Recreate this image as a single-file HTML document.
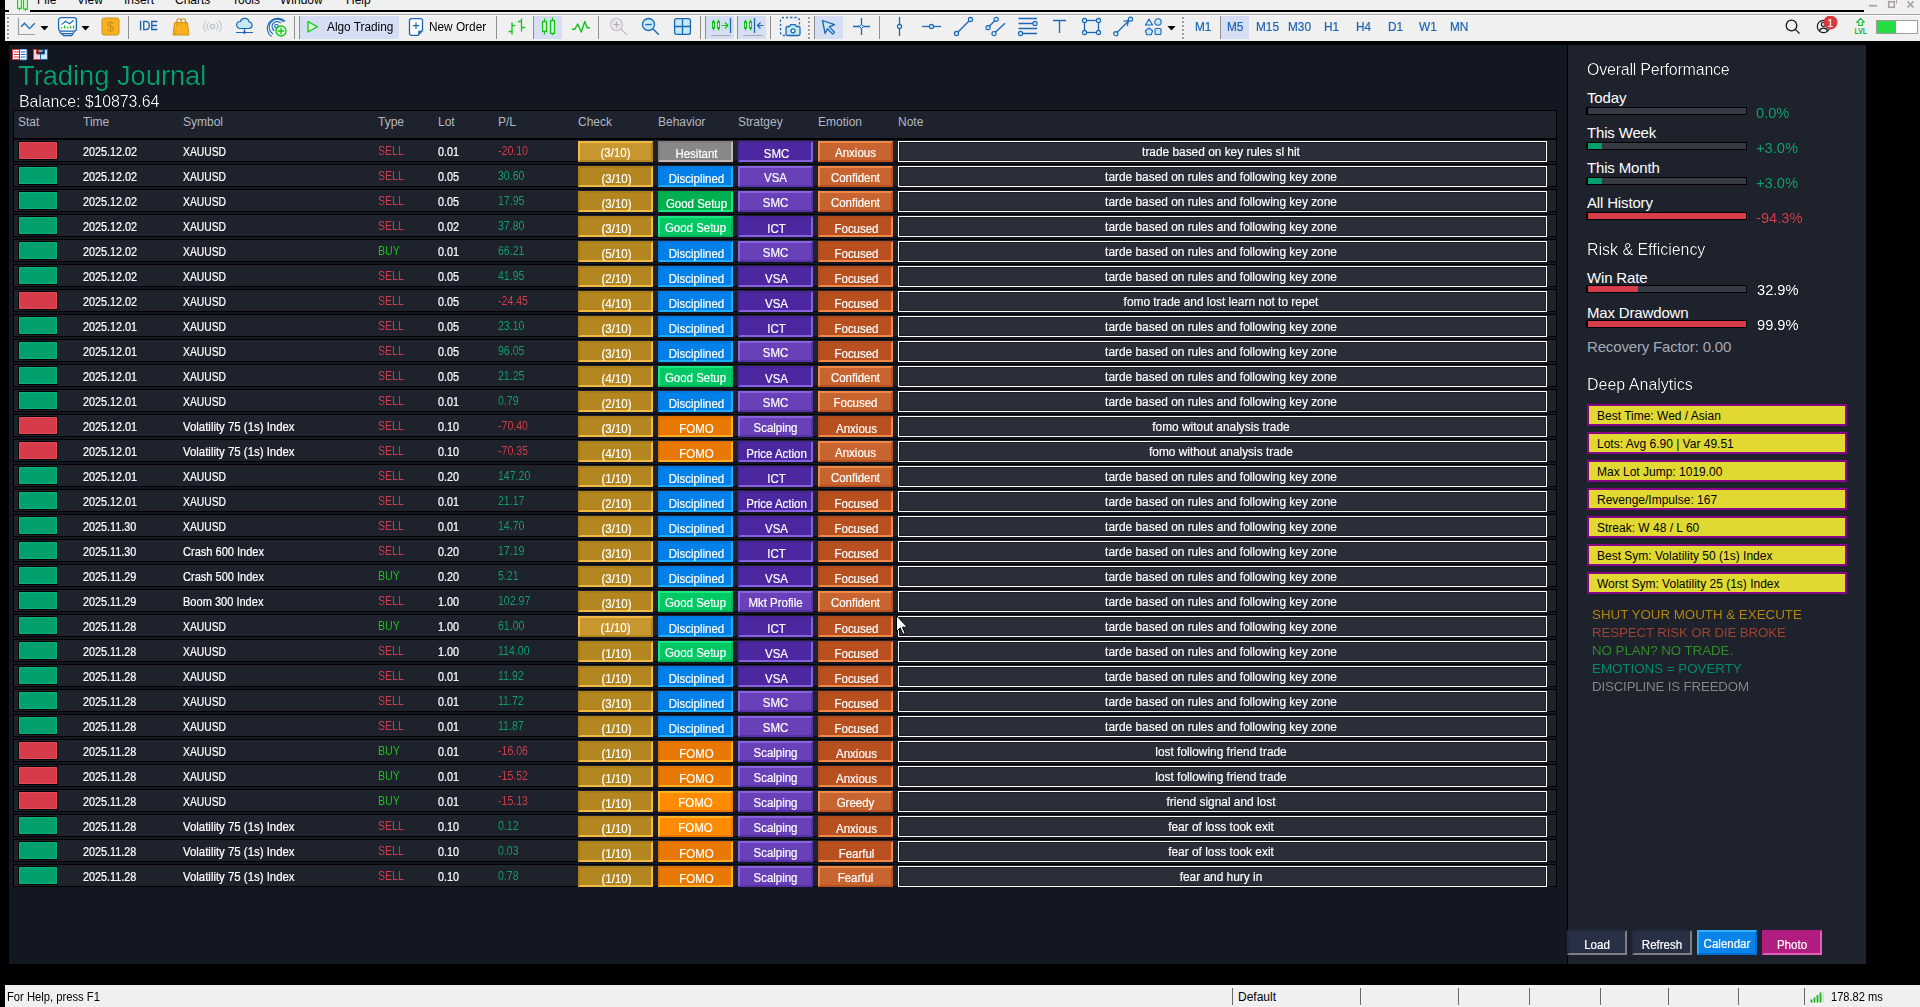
<!DOCTYPE html>
<html lang="en">
<head>
<meta charset="utf-8">
<title>Trading Journal</title>
<style>
*{box-sizing:border-box;margin:0;padding:0}
html,body{width:1920px;height:1007px;overflow:hidden;background:#000}
body{position:relative;font-family:"Liberation Sans",sans-serif;font-size:12px;color:#fff}
div,span,svg{position:absolute}
span{position:static}
/* ---------- window chrome ---------- */
#menubar{left:5px;top:0;width:1915px;height:10px;background:#f0f0f0;overflow:hidden}
#menubar .m{top:-7px;font-size:12px;color:#000;white-space:nowrap;line-height:14px}
#gap1{left:5px;top:10px;width:1859px;height:2px;background:#000}
#gap1b{left:1864px;top:10px;width:56px;height:2px;background:#f0f0f0}
#gapicon{left:9px;top:10px;width:21px;height:2px;background:#f0f0f0}
#strip{left:5px;top:12px;width:1915px;height:3px;background:#f0f0f0}
#strip i{position:absolute;left:0;top:2px;width:100%;height:1px;background:#a3a8a3}
#toolbar{left:5px;top:15px;width:1915px;height:26px;background:#f0f0f0}
#tbw{left:5px;top:15px;width:1915px;height:1px;background:#fdfdfd}
#toolbar .hl{background:#d6def3;top:1px;height:23px}
#toolbar .sep{width:1px;top:1px;height:23px;background:#8d8d8d}
#toolbar .tx{font-size:12px;color:#000;white-space:nowrap;top:5px;line-height:14px}
#toolbar .tf{-webkit-text-stroke:.2px #1a64b4;font-size:12px;color:#1a64b4;white-space:nowrap;top:5px;line-height:14px}
#toolbar .ide{-webkit-text-stroke:.3px #1560b0;font-size:12.5px;line-height:14px;color:#1560b0;top:5px;transform-origin:0 50%;transform:scaleX(.9)}
.k{display:inline-block;transform-origin:0 50%;transform:scaleX(.985)}
#toolbar .grip{width:2px;top:2px;height:23px;background:repeating-linear-gradient(180deg,#a8979d 0 2px,#fbfbfb 2px 3px,transparent 3px 4px)}
/* ---------- chart ---------- */
#chart{left:9px;top:45px;width:1558px;height:919px;background:#131722;overflow:hidden}
#chart>div{position:absolute}
#title{left:9px;top:16px;font-size:27.25px;line-height:30px;color:#00a36f;white-space:nowrap}
#bal{left:10px;top:48px;font-size:16px;line-height:18px;color:#fff;white-space:nowrap;letter-spacing:-.12px}
.hdr{left:4px;top:65px;width:1544px;height:29px;background:#1e222d;border:1px solid #000}
.hdr span{position:absolute;top:4px;font-size:12px;line-height:14px;color:#b4b7c0;white-space:nowrap}
#tbl{left:-9px;top:-45px;width:1px;height:1px}
#tbl>div{position:absolute}
.row{left:13px;width:1544px;height:23px;background:#1e222d;border:1px solid #000}
.st{left:18px;width:40px;height:19px;border:1px solid #000}
.st.w{background:#009f6c;box-shadow:inset 0 0 0 1px #00b47b}
.st.l{background:#d53b48;box-shadow:inset 0 0 0 1px #e84754}
.t{font-size:12px;line-height:14px;white-space:nowrap}
.t.s{color:#fff;-webkit-text-stroke:.22px #fff}
.sx{display:inline-block;transform-origin:0 50%;transform:scaleX(.90)}
.sx.mix{transform:scaleX(.95)}
.sx.cap{transform:scaleX(.86)}
.sx.mx2{transform:scaleX(.92)}
.nx{display:inline-block;transform-origin:0 50%;transform:scaleX(.845)}
.t.a{font-size:12.5px}
.sell{color:#d63c49}
.buy{color:#1cc41c}
.neg{color:#d63c49}
.pos{color:#0fa06d}
.b{-webkit-text-stroke:.2px #fff;width:75px;height:21px;text-align:center;font-size:12px;line-height:14px;color:#fff;white-space:nowrap;border-style:solid;border-width:2px}
.b span{position:absolute;left:-2px;right:-2px;top:2.5px;display:block;transform:scaleX(.955)}
.b.p span{left:-1px;right:-3px;top:3.5px}
.go{background:#c8962f;border-color:#f0ba45 #b3861f #b3861f #f0ba45}
.go.p{background:#b3861f;border-color:#aa7e1b #f0ba45 #f0ba45 #aa7e1b}
.bl{background:#1890f0;border-color:#30b0ff #0080e8 #0080e8 #30b0ff}
.bl.p{background:#0080e8;border-color:#0078e0 #20acff #20acff #0078e0}
.gr{background:#00c864;border-color:#18e880 #00b458 #00b458 #18e880}
.gr.p{background:#00b050;border-color:#00a84c #18e880 #18e880 #00a84c}
.or{background:#ff8c00;border-color:#ffb428 #e87800 #e87800 #ffb428}
.or.p{background:#e87800;border-color:#e07000 #ffb020 #ffb020 #e07000}
.gy{background:#989898;border-color:#c8c0c0 #888 #888 #c8c0c0}
.gy.p{background:#888888;border-color:#807c80 #c8b8b8 #c8b8b8 #807c80}
.pu{background:#6840b8;border-color:#8a62e0 #5830a8 #5830a8 #8a62e0}
.pu.p{background:#4c28a0;border-color:#482498 #8860e0 #8860e0 #482498}
.em{background:#c86430;border-color:#f08848 #b85020 #b85020 #f08848}
.em.p{background:#b85020;border-color:#b04c1c #f08848 #f08848 #b04c1c}
.note{-webkit-text-stroke:.18px #fff;left:898px;width:649px;height:21px;background:#2a2e39;border:1px solid #fff;box-shadow:inset 0 0 0 1px #1d202a;text-align:center;font-size:12px;line-height:14px;color:#fff;white-space:nowrap}
.note span{position:absolute;left:0;right:3px;top:3px;display:block;transform:scaleX(.99)}
.gdi,#title,#bal,.h1{filter:url(#thin)}
.pc,.mo,.t.a{filter:url(#thin2)}
/* ---------- side panel ---------- */
#side{left:1567px;top:45px;width:299px;height:919px;background:#1e222d;border-left:1px solid #000}
#side>div{position:absolute;white-space:nowrap}
.h1{left:19px;font-size:16px;line-height:18px;color:#fff;letter-spacing:-.22px}
.h2{left:19px;font-size:15px;line-height:17px;color:#fff;letter-spacing:-.16px}
.pc{left:188px;font-size:14.67px;line-height:17px}
.bar{left:18px;width:161px;height:8px;background:#363a45;border:1px solid #000;border-left-width:2px}
.bar i{position:absolute;left:0;top:0;height:6px}
.yb{left:19px;width:260px;height:22px;background:#e1d932;border:2px solid #880688;color:#000;font-size:12px;line-height:14px;padding:3px 0 0 8px}
.mo{left:24px;font-size:13.33px;line-height:15px}
.sb{-webkit-text-stroke:.2px #fff;width:60px;height:25px;text-align:center;font-size:12px;line-height:14px;color:#fff;border-style:solid;border-width:2px}
.sb span{position:absolute;left:-2px;right:-2px;top:6px;display:block;transform:scaleX(.96)}
/* ---------- status bar ---------- */
#status{left:5px;top:985px;width:1915px;height:22px;background:#f0f0f0;color:#000;font-size:12px;line-height:14px}
#status div{position:absolute;white-space:nowrap}
#status .sp{width:1px;top:3px;height:17px;background:#6a6a6a}
</style>
</head>
<body>
<svg width="0" height="0" style="left:0;top:0"><defs><filter id="thin" x="0" y="0" width="1" height="1" color-interpolation-filters="sRGB"><feComponentTransfer><feFuncA type="gamma" amplitude="1" exponent="2.1" offset="0"/></feComponentTransfer></filter><filter id="thin2" x="0" y="0" width="1" height="1" color-interpolation-filters="sRGB"><feComponentTransfer><feFuncA type="gamma" amplitude="1.1" exponent="1.35" offset="0"/></feComponentTransfer></filter></defs></svg>
<!-- menu bar (clipped by the window edge) -->
<div id="menubar">
<svg style="left:1862px;top:0" width="52" height="10" viewBox="0 0 52 10"><path d="M2 5.700h8" stroke="#a9a0a4" stroke-width="1.700"/><rect x="21.700" y="1.700" width="5.600" height="5.600" fill="none" stroke="#a9a0a4" stroke-width="1.500"/><path d="M29.500 0v3.500" stroke="#a9a0a4" stroke-width="1"/><path d="M40.500 1.500l6 6M46.500 1.500l-6 6" stroke="#a9a0a4" stroke-width="1.700"/></svg>
<div class="m" style="left:32px">File</div>
<div class="m" style="left:72px">View</div>
<div class="m" style="left:119px">Insert</div>
<div class="m" style="left:170px">Charts</div>
<div class="m" style="left:227px">Tools</div>
<div class="m" style="left:275px">Window</div>
<div class="m" style="left:341px">Help</div>
</div>
<div id="gap1"></div><div id="gap1b"></div><div id="gapicon"></div>
<svg style="left:16px;top:0" width="14" height="12" viewBox="0 0 14 12"><rect x="1.600" y="-3" width="3.800" height="11.400" fill="#e9ffe2" stroke="#12d012" stroke-width="1.200"/><rect x="7.600" y="-3" width="3.800" height="12" fill="#e9ffe2" stroke="#12d012" stroke-width="1.200"/><path d="M3.500 8.500v1.700M9.500 9v2" stroke="#12d012" stroke-width="1.200"/></svg>

<div id="strip"><i></i></div>
<div id="toolbar">
<div class="grip" style="left:2px;"></div>
<svg style="left:12px;top:2px" width="20" height="19" viewBox="0 0 20 19"><path d="M1.5 1v16.5H18" fill="none" stroke="#9aa09e" stroke-width="1.2"/><path d="M4.2 9.8l3.3-3.6 5 5.4 5.3-5.4" fill="none" stroke="#1b66b6" stroke-width="1.3" stroke-linejoin="miter"/></svg>
<svg style="left:35px;top:10px" width="9" height="6" viewBox="0 0 9 6"><path d="M0.5 1h8L4.5 5.4z" fill="#000"/></svg>
<svg style="left:52px;top:1px" width="21" height="21" viewBox="0 0 21 21"><rect x="1.6" y="1.6" width="17.8" height="13.6" rx="2.6" fill="#fff" stroke="#1b66b6" stroke-width="1.3"/><path d="M2.6 15.6l1.6 2.1h11.6l1.6-2.1M4.8 17.7l1.6 1.9h8.2l1.6-1.9M6.4 19.6h8.2" fill="none" stroke="#1b66b6" stroke-width="1.2"/><path d="M4.5 8.6l4-3.3 4 2.4 4.2-3.4" fill="none" stroke="#1b66b6" stroke-width="1.2"/><path d="M4.6 11v1.6M7.6 9.6v3M10.6 11v1.6M13.6 10.2v2.4M16.6 9.4v3.2" stroke="#10c414" stroke-width="1.3"/></svg>
<svg style="left:76px;top:10px" width="9" height="6" viewBox="0 0 9 6"><path d="M0.5 1h8L4.5 5.4z" fill="#000"/></svg>
<svg style="left:96px;top:2px" width="19" height="19" viewBox="0 0 19 19"><rect x="1" y="1" width="17" height="17" rx="2" fill="#fab11f" stroke="#d0921a" stroke-width="1"/><path d="M12.3 6.6c-.6-1-1.7-1.4-2.9-1.4-1.7 0-2.8.9-2.800 2.100 0 3 5.800 1.500 5.800 4.500 0 1.300-1.200 2.100-3 2.100-1.400 0-2.500-.6-3.100-1.600M9.500 3.500v12" fill="none" stroke="#c8901c" stroke-width="1.1"/></svg>
<div class="sep" style="left:123px;"></div>
<div class="ide" style="left:134px;top:4px;">IDE</div>
<svg style="left:167px;top:2px" width="18" height="19" viewBox="0 0 18 19"><path d="M4.800 6.500V4.500a2.200 2.700 0 0 1 4.400 0v2M9.200 6.500V4.500a2.200 2.700 0 0 1 4.400 0v2" fill="none" stroke="#d0921a" stroke-width="1.1"/><path d="M2.500 5.500h13l1.500 12.500H1z" fill="#fab11f" stroke="#d0921a" stroke-width="1"/><path d="M4.800 5.500v4M9.200 5.500v2M13.600 5.500v2M3.800 13.500v4" stroke="#d0921a" stroke-width="1"/></svg>
<svg style="left:198px;top:4px" width="20" height="15" viewBox="0 0 20 15"><circle cx="9.500" cy="7.500" r="2.300" fill="#e4ecf4" stroke="#a9b7cc" stroke-width="1"/><path d="M5.700 3.600a5.500 5.500 0 0 0 0 7.800M13.300 3.600a5.500 5.500 0 0 1 0 7.800" fill="none" stroke="#c5b4ba" stroke-width="1"/><path d="M3.200 1.500a8.500 8.500 0 0 0 0 12M15.800 1.500a8.500 8.500 0 0 1 0 12" fill="none" stroke="#b4c4da" stroke-width="1"/></svg>
<svg style="left:230px;top:2px" width="20" height="19" viewBox="0 0 20 19"><path d="M5 11.500a3.500 3.500 0 0 1 .3-7 4.600 4.600 0 0 1 8.800.5 3.300 3.300 0 0 1 .4 6.500z" fill="#c6e9f5" stroke="#1b66b6" stroke-width="1.200"/><path d="M9.500 11.500v3.500M1 15.500h17" stroke="#1b66b6" stroke-width="1.200"/><circle cx="9.500" cy="15.600" r="1.300" fill="#1b66b6"/></svg>
<svg style="left:261px;top:2px" width="22" height="21" viewBox="0 0 22 21"><circle cx="10.500" cy="9.300" r="1.800" fill="#c6e9f5" stroke="#1b66b6" stroke-width="1.100"/><path d="M14.800 6.200a5 5 0 1 0-6.300 7.600M17 4.800a8 8 0 1 0-10 12.300M19 4.500a10.500 10.500 0 0 0-16.500 2 10 10 0 0 0 3 13" fill="none" stroke="#1b66b6" stroke-width="1.100"/><circle cx="15" cy="14" r="5" fill="#e4ffe2" stroke="#10c414" stroke-width="1.300"/><path d="M15 10.800v6.400M11.800 14h6.400" stroke="#10c414" stroke-width="1.300"/></svg>
<div class="sep" style="left:289px;"></div>
<div class="sep" style="left:294px;"></div>
<div class="hl" style="left:295px;width:99px;"></div>
<svg style="left:301px;top:5px" width="14" height="14" viewBox="0 0 14 14"><path d="M2 1.500l9.500 5.200L2 12z" fill="#dcffd8" stroke="#10c414" stroke-width="1.300" stroke-linejoin="round"/></svg>
<div class="tx" style="left:322px;"><span class="k">Algo Trading</span></div>
<svg style="left:403px;top:2px" width="16" height="20" viewBox="0 0 16 20"><path d="M3.500 1.600h9a2 2 0 0 1 2 2v9.900l-4.500 4.900H3.500a2 2 0 0 1-2-2V3.600a2 2 0 0 1 2-2z" fill="#fff" stroke="#1b66b6" stroke-width="1.300"/><path d="M14.200 13.700l-4 4.400v-4.400z" fill="#1b66b6"/><path d="M8 5.500v6.400M4.800 8.700h6.400" stroke="#1b66b6" stroke-width="1.200"/></svg>
<div class="tx" style="left:424px;"><span class="k">New Order</span></div>
<div class="sep" style="left:491px;"></div>
<svg style="left:502px;top:2px" width="20" height="20" viewBox="0 0 20 20"><path d="M5 5.500v12M5 14.500H1.500M5 8.500h3M14.500 1.500v13M14.500 4.500H11M14.500 10.500h3.500" fill="none" stroke="#10c414" stroke-width="1.300"/></svg>
<div class="sep" style="left:528px;"></div>
<div class="hl" style="left:529px;width:28px;"></div>
<svg style="left:536px;top:2px" width="16" height="20" viewBox="0 0 16 20"><path d="M3.500 1.500v16M11.500 .5v17.500" stroke="#10c414" stroke-width="1.300"/><rect x="1.600" y="4.600" width="3.800" height="9.800" fill="#e9ffe6" stroke="#10c414" stroke-width="1.300"/><rect x="9.600" y="3.600" width="3.800" height="12.800" fill="#e9ffe6" stroke="#10c414" stroke-width="1.300"/></svg>
<svg style="left:566px;top:4px" width="20" height="15" viewBox="0 0 20 15"><path d="M1 10.300h2.700l3-5.300 3.600 8 3.500-10.500 2.200 6.200h3" fill="none" stroke="#10c414" stroke-width="1.400" stroke-linejoin="round"/></svg>
<div class="sep" style="left:593px;"></div>
<svg style="left:604px;top:2px" width="20" height="20" viewBox="0 0 20 20"><circle cx="7.500" cy="7.500" r="6" fill="#e8e9ee" stroke="#c9bcc4" stroke-width="1.100"/><path d="M7.500 4.500v6M4.500 7.500h6" stroke="#b7a8b0" stroke-width="1.100"/><path d="M11.800 11.800l6 6" stroke="#c4b6be" stroke-width="1.200"/></svg>
<svg style="left:636px;top:2px" width="20" height="20" viewBox="0 0 20 20"><circle cx="7.500" cy="7.500" r="6" fill="#c6e9f5" stroke="#1b66b6" stroke-width="1.300"/><path d="M4.300 7.500h6.400" stroke="#1b66b6" stroke-width="1.300"/><path d="M11.800 11.800l6 6" stroke="#1b66b6" stroke-width="1.400"/></svg>
<svg style="left:668px;top:2px" width="20" height="20" viewBox="0 0 20 20"><rect x="1.600" y="1.600" width="15.800" height="15.800" rx="2" fill="#c6e9f5" stroke="#1b66b6" stroke-width="1.300"/><path d="M9.500 1.600v15.800M1.600 9.500h15.800" stroke="#1b66b6" stroke-width="1.300"/></svg>
<div class="sep" style="left:695px;"></div>
<div class="sep" style="left:700px;"></div>
<div class="hl" style="left:701px;width:28px;"></div>
<svg style="left:705px;top:2px" width="22" height="21" viewBox="0 0 22 21"><path d="M3.500 2.500v11M8.500 2.500v11" stroke="#10c414" stroke-width="1"/><rect x="2.500" y="4.600" width="2" height="6.800" fill="#e9ffe6" stroke="#10c414" stroke-width="1"/><rect x="7.500" y="4.600" width="2" height="6.800" fill="#e9ffe6" stroke="#10c414" stroke-width="1"/><path d="M11.500 8.500h6M15 5.500l3 3-3 3" fill="none" stroke="#10c414" stroke-width="1.200"/><path d="M20.500 1v15" stroke="#1b66b6" stroke-width="1.300"/><path d="M1.500 18.500h19" stroke="#aaa9a4" stroke-width="1"/></svg>
<div class="sep" style="left:732px;"></div>
<div class="hl" style="left:733px;width:28px;"></div>
<svg style="left:737px;top:2px" width="22" height="21" viewBox="0 0 22 21"><path d="M3.500 2.500v11M8.500 2.500v11" stroke="#10c414" stroke-width="1"/><rect x="2.500" y="4.600" width="2" height="6.800" fill="#e9ffe6" stroke="#10c414" stroke-width="1"/><rect x="7.500" y="4.600" width="2" height="6.800" fill="#e9ffe6" stroke="#10c414" stroke-width="1"/><path d="M12.500 1v15" stroke="#1b66b6" stroke-width="1.300"/><path d="M15.500 8.500h6M18.500 5.500l-3 3 3 3" fill="none" stroke="#1b66b6" stroke-width="1.200"/><path d="M1.500 18.500h19" stroke="#aaa9a4" stroke-width="1"/></svg>
<div class="sep" style="left:765px;"></div>
<svg style="left:774px;top:1px" width="23" height="22" viewBox="0 0 23 22"><path d="M6 19.500H4.500a3 3 0 0 1-3-3V4.500a3 3 0 0 1 3-3h13a3 3 0 0 1 3 3V9" fill="none" stroke="#1b66b6" stroke-width="1.300" stroke-dasharray="2.200 2"/><path d="M8.500 19.500a1.500 1.500 0 0 1-1.500-1.500v-6a1.500 1.500 0 0 1 1.500-1.500h2l1.300-1.900h4.400l1.300 1.900h2a1.500 1.500 0 0 1 1.500 1.500v6a1.500 1.500 0 0 1-1.500 1.500z" fill="#c6e9f5" stroke="#1b66b6" stroke-width="1.300"/><circle cx="14" cy="14.800" r="2" fill="#fff" stroke="#1b66b6" stroke-width="1.300"/></svg>
<div class="grip" style="left:803px;"></div>
<div class="sep" style="left:809px;"></div>
<div class="hl" style="left:810px;width:28px;"></div>
<svg style="left:815px;top:3px" width="18" height="18" viewBox="0 0 18 18"><path d="M2.500 2.500l12 4.200-5.200 2.200 5.200 5.400-1.800 1.800-5.300-5.400-2.300 4.800z" fill="#c6e9f5" stroke="#1b66b6" stroke-width="1.300" stroke-linejoin="round"/></svg>
<svg style="left:847px;top:2px" width="20" height="20" viewBox="0 0 20 20"><path d="M9.500 1v17M1 9.500h17" stroke="#1b66b6" stroke-width="1.300"/><path d="M9.500 7.300l2.200 2.200-2.200 2.200-2.200-2.200z" fill="#c6e9f5" stroke="#1b66b6" stroke-width="1"/></svg>
<div class="sep" style="left:874px;"></div>
<svg style="left:888px;top:1px" width="14" height="22" viewBox="0 0 14 22"><path d="M6.500 1v19" stroke="#1b66b6" stroke-width="1.300"/><circle cx="6.500" cy="10.500" r="2.100" fill="#c6e9f5" stroke="#1b66b6" stroke-width="1.100"/></svg>
<svg style="left:916px;top:6px" width="22" height="12" viewBox="0 0 22 12"><path d="M1 5.500h19" stroke="#1b66b6" stroke-width="1.300"/><circle cx="10.500" cy="5.500" r="2.100" fill="#c6e9f5" stroke="#1b66b6" stroke-width="1.100"/></svg>
<svg style="left:948px;top:1px" width="22" height="22" viewBox="0 0 22 22"><path d="M3.800 17.200L17.200 3.800" stroke="#1b66b6" stroke-width="1.300"/><circle cx="3.500" cy="17.500" r="2.100" fill="#c6e9f5" stroke="#1b66b6" stroke-width="1.100"/><circle cx="17.500" cy="3.500" r="2.100" fill="#c6e9f5" stroke="#1b66b6" stroke-width="1.100"/></svg>
<svg style="left:979px;top:1px" width="24" height="22" viewBox="0 0 24 22"><path d="M4 11.500l8-8M10 17.500l11-10.300" stroke="#1b66b6" stroke-width="1.300"/><circle cx="4" cy="11.700" r="2.100" fill="#c6e9f5" stroke="#1b66b6" stroke-width="1.100"/><circle cx="12.200" cy="3.300" r="2.100" fill="#c6e9f5" stroke="#1b66b6" stroke-width="1.100"/><circle cx="10" cy="17.600" r="2.100" fill="#c6e9f5" stroke="#1b66b6" stroke-width="1.100"/></svg>
<svg style="left:1011px;top:1px" width="24" height="22" viewBox="0 0 24 22"><path d="M2.500 2.500h18.500M2.500 7.500h16M2.500 12.500h18.500M5 17.500h16" stroke="#1b66b6" stroke-width="1.300"/><circle cx="19" cy="7.500" r="2.100" fill="#c6e9f5" stroke="#1b66b6" stroke-width="1.100"/><circle cx="4.500" cy="17.500" r="2.100" fill="#c6e9f5" stroke="#1b66b6" stroke-width="1.100"/></svg>
<svg style="left:1047px;top:3px" width="16" height="16" viewBox="0 0 16 16"><path d="M1 2.500h13M7.500 2.500v12.500" stroke="#1b66b6" stroke-width="1.300" fill="none"/></svg>
<svg style="left:1076px;top:2px" width="22" height="20" viewBox="0 0 22 20"><rect x="3.500" y="3.500" width="14" height="12" fill="none" stroke="#1b66b6" stroke-width="1.300"/><circle cx="3.500" cy="3.500" r="2.100" fill="#c6e9f5" stroke="#1b66b6" stroke-width="1.100"/><circle cx="17.500" cy="3.500" r="2.100" fill="#c6e9f5" stroke="#1b66b6" stroke-width="1.100"/><circle cx="3.500" cy="15.500" r="2.100" fill="#c6e9f5" stroke="#1b66b6" stroke-width="1.100"/><circle cx="17.500" cy="15.500" r="2.100" fill="#c6e9f5" stroke="#1b66b6" stroke-width="1.100"/></svg>
<svg style="left:1107px;top:1px" width="22" height="22" viewBox="0 0 22 22"><path d="M4 17.500L17 4.500M11.500 5.300l6-1.300M15.300 10l1.300-6" stroke="#1b66b6" stroke-width="1.200" fill="none"/><circle cx="3.800" cy="17.700" r="2.100" fill="#c6e9f5" stroke="#1b66b6" stroke-width="1.100"/><circle cx="18.500" cy="3.200" r="2.100" fill="#c6e9f5" stroke="#1b66b6" stroke-width="1.100"/></svg>
<svg style="left:1139px;top:2px" width="20" height="20" viewBox="0 0 20 20"><path d="M5 2l3.600 6H1.400z" fill="#c6e9f5" stroke="#1b66b6" stroke-width="1.100" stroke-linejoin="round"/><circle cx="14" cy="5" r="3.200" fill="#c6e9f5" stroke="#1b66b6" stroke-width="1.100"/><path d="M5 11l3.600 2.700-1.400 4H2.800l-1.400-4z" fill="#c6e9f5" stroke="#1b66b6" stroke-width="1.100" stroke-linejoin="round"/><rect x="11" y="11.500" width="6" height="6" rx="1" fill="#c6e9f5" stroke="#1b66b6" stroke-width="1.100"/></svg>
<svg style="left:1162px;top:10px" width="9" height="6" viewBox="0 0 9 6"><path d="M0.5 1h8L4.5 5.4z" fill="#000"/></svg>
<div class="grip" style="left:1177px;"></div>
<div class="tf" style="left:1190px;"><span class="k">M1</span></div>
<div class="sep" style="left:1215px;"></div>
<div class="hl" style="left:1216px;width:28px;"></div>
<div class="tf" style="left:1222px;"><span class="k">M5</span></div>
<div class="tf" style="left:1251px;"><span class="k">M15</span></div>
<div class="tf" style="left:1283px;"><span class="k">M30</span></div>
<div class="tf" style="left:1319px;"><span class="k">H1</span></div>
<div class="tf" style="left:1351px;"><span class="k">H4</span></div>
<div class="tf" style="left:1383px;"><span class="k">D1</span></div>
<div class="tf" style="left:1414px;"><span class="k">W1</span></div>
<div class="tf" style="left:1445px;"><span class="k">MN</span></div>
<svg style="left:1779px;top:3px" width="18" height="18" viewBox="0 0 18 18"><circle cx="7.500" cy="7.500" r="5.300" fill="none" stroke="#1a1a1a" stroke-width="1.300"/><path d="M11.400 11.400l4.200 4.200" stroke="#1a1a1a" stroke-width="1.300"/></svg>
<svg style="left:1810px;top:0px" width="24" height="22" viewBox="0 0 24 22"><circle cx="8.500" cy="11.500" r="6.200" fill="none" stroke="#1a1a1a" stroke-width="1.200"/><circle cx="8.500" cy="9.300" r="2.100" fill="none" stroke="#1a1a1a" stroke-width="1.100"/><path d="M4.300 16a4.500 4.500 0 0 1 8.400 0" fill="none" stroke="#1a1a1a" stroke-width="1.100"/><circle cx="15.500" cy="7.500" r="7" fill="#d9393e"/><text x="15.300" y="11.600" text-anchor="middle" style="font-family:'Liberation Sans',sans-serif;font-size:11.500px" fill="#fff">1</text></svg>
<svg style="left:1848px;top:2px" width="16" height="19" viewBox="0 0 16 19"><path d="M7.500 1.300l3.900 4H9.200v3.200H5.800V5.300H3.600z" fill="#fff" stroke="#12b42c" stroke-width="1.100" stroke-linejoin="round"/><text x="7.700" y="17.300" text-anchor="middle" style="font-family:'Liberation Sans',sans-serif;font-size:8.200px;font-weight:bold" fill="#12b42c" textLength="12.500" lengthAdjust="spacingAndGlyphs">LVL</text></svg>
<div style="left:1871px;top:5px;width:42px;height:14px;background:#fff;border:1px solid #a39c9f"><i style="position:absolute;left:0;top:0;width:19px;height:12px;background:#24dc44"></i></div>
</div>

<div id="tbw"></div>

<div id="chart">
<svg style="left:3px;top:4px" width="36" height="12" viewBox="0 0 36 12">
<rect x=".5" y=".5" width="14" height="10" fill="#fff" stroke="#d43c40" stroke-width="1"/><path d="M7.500 0v11h7.500V0z" fill="#fff" stroke="#1c60b4" stroke-width="1"/><path d="M2 3h5M2 5.500h5M2 8h5" stroke="#d43c40" stroke-width="1"/><path d="M8.500 3h5M8.500 5.500h5M8.500 8h5" stroke="#1c60b4" stroke-width="1"/>
<path d="M21.500.500h3v4.500h4v5.500h-7z" fill="#fbd4d8" stroke="#d43c40" stroke-width="1"/><path d="M32.500.500h3v10h-7V5h4z" fill="#c6e9f5" stroke="#1c60b4" stroke-width="1"/><rect x="25.500" y=".500" width="6" height="3" fill="#555"/><rect x="26.500" y="1.500" width="4" height="1" fill="#eee"/>
</svg>
<div id="title">Trading Journal</div>
<div id="bal">Balance: $10873.64</div>
<div class="hdr">
<span style="left:4px">Stat</span><span style="left:69px">Time</span><span style="left:169px">Symbol</span><span style="left:364px">Type</span><span style="left:424px">Lot</span><span style="left:484px">P/L</span><span style="left:564px">Check</span><span style="left:644px">Behavior</span><span style="left:724px">Stratgey</span><span style="left:804px">Emotion</span><span style="left:884px">Note</span>
</div>
<div id="tbl">
<div class="row" style="top:139px"></div>
<div class="st l" style="top:141px"></div>
<div class="t s" style="left:83px;top:145px"><span class="sx">2025.12.02</span></div>
<div class="t s" style="left:183px;top:145px"><span class="sx cap">XAUUSD</span></div>
<div class="t a sell" style="left:378px;top:144px"><span class="nx">SELL</span></div>
<div class="t s" style="left:438px;top:145px"><span class="sx">0.01</span></div>
<div class="t a neg" style="left:498px;top:144px"><span class="nx">-20.10</span></div>
<div class="b go" style="left:578px;top:141px"><span>(3/10)</span></div>
<div class="b gy p" style="left:658px;top:141px"><span>Hesitant</span></div>
<div class="b pu p" style="left:738px;top:141px"><span>SMC</span></div>
<div class="b em" style="left:818px;top:141px"><span>Anxious</span></div>
<div class="note" style="top:141px"><span>trade based on key rules sl hit</span></div>
<div class="row" style="top:164px"></div>
<div class="st w" style="top:166px"></div>
<div class="t s" style="left:83px;top:170px"><span class="sx">2025.12.02</span></div>
<div class="t s" style="left:183px;top:170px"><span class="sx cap">XAUUSD</span></div>
<div class="t a sell" style="left:378px;top:169px"><span class="nx">SELL</span></div>
<div class="t s" style="left:438px;top:170px"><span class="sx">0.05</span></div>
<div class="t a pos" style="left:498px;top:169px"><span class="nx">30.60</span></div>
<div class="b go p" style="left:578px;top:166px"><span>(3/10)</span></div>
<div class="b bl p" style="left:658px;top:166px"><span>Disciplined</span></div>
<div class="b pu" style="left:738px;top:166px"><span>VSA</span></div>
<div class="b em" style="left:818px;top:166px"><span>Confident</span></div>
<div class="note" style="top:166px"><span>tarde based on rules and following key zone</span></div>
<div class="row" style="top:189px"></div>
<div class="st w" style="top:191px"></div>
<div class="t s" style="left:83px;top:195px"><span class="sx">2025.12.02</span></div>
<div class="t s" style="left:183px;top:195px"><span class="sx cap">XAUUSD</span></div>
<div class="t a sell" style="left:378px;top:194px"><span class="nx">SELL</span></div>
<div class="t s" style="left:438px;top:195px"><span class="sx">0.05</span></div>
<div class="t a pos" style="left:498px;top:194px"><span class="nx">17.95</span></div>
<div class="b go p" style="left:578px;top:191px"><span>(3/10)</span></div>
<div class="b gr p" style="left:658px;top:191px"><span>Good Setup</span></div>
<div class="b pu" style="left:738px;top:191px"><span>SMC</span></div>
<div class="b em" style="left:818px;top:191px"><span>Confident</span></div>
<div class="note" style="top:191px"><span>tarde based on rules and following key zone</span></div>
<div class="row" style="top:214px"></div>
<div class="st w" style="top:216px"></div>
<div class="t s" style="left:83px;top:220px"><span class="sx">2025.12.02</span></div>
<div class="t s" style="left:183px;top:220px"><span class="sx cap">XAUUSD</span></div>
<div class="t a sell" style="left:378px;top:219px"><span class="nx">SELL</span></div>
<div class="t s" style="left:438px;top:220px"><span class="sx">0.02</span></div>
<div class="t a pos" style="left:498px;top:219px"><span class="nx">37.80</span></div>
<div class="b go p" style="left:578px;top:216px"><span>(3/10)</span></div>
<div class="b gr" style="left:658px;top:216px"><span>Good Setup</span></div>
<div class="b pu p" style="left:738px;top:216px"><span>ICT</span></div>
<div class="b em p" style="left:818px;top:216px"><span>Focused</span></div>
<div class="note" style="top:216px"><span>tarde based on rules and following key zone</span></div>
<div class="row" style="top:239px"></div>
<div class="st w" style="top:241px"></div>
<div class="t s" style="left:83px;top:245px"><span class="sx">2025.12.02</span></div>
<div class="t s" style="left:183px;top:245px"><span class="sx cap">XAUUSD</span></div>
<div class="t a buy" style="left:378px;top:244px"><span class="nx">BUY</span></div>
<div class="t s" style="left:438px;top:245px"><span class="sx">0.01</span></div>
<div class="t a pos" style="left:498px;top:244px"><span class="nx">66.21</span></div>
<div class="b go p" style="left:578px;top:241px"><span>(5/10)</span></div>
<div class="b bl p" style="left:658px;top:241px"><span>Disciplined</span></div>
<div class="b pu" style="left:738px;top:241px"><span>SMC</span></div>
<div class="b em p" style="left:818px;top:241px"><span>Focused</span></div>
<div class="note" style="top:241px"><span>tarde based on rules and following key zone</span></div>
<div class="row" style="top:264px"></div>
<div class="st w" style="top:266px"></div>
<div class="t s" style="left:83px;top:270px"><span class="sx">2025.12.02</span></div>
<div class="t s" style="left:183px;top:270px"><span class="sx cap">XAUUSD</span></div>
<div class="t a sell" style="left:378px;top:269px"><span class="nx">SELL</span></div>
<div class="t s" style="left:438px;top:270px"><span class="sx">0.05</span></div>
<div class="t a pos" style="left:498px;top:269px"><span class="nx">41.95</span></div>
<div class="b go p" style="left:578px;top:266px"><span>(2/10)</span></div>
<div class="b bl p" style="left:658px;top:266px"><span>Disciplined</span></div>
<div class="b pu p" style="left:738px;top:266px"><span>VSA</span></div>
<div class="b em p" style="left:818px;top:266px"><span>Focused</span></div>
<div class="note" style="top:266px"><span>tarde based on rules and following key zone</span></div>
<div class="row" style="top:289px"></div>
<div class="st l" style="top:291px"></div>
<div class="t s" style="left:83px;top:295px"><span class="sx">2025.12.02</span></div>
<div class="t s" style="left:183px;top:295px"><span class="sx cap">XAUUSD</span></div>
<div class="t a sell" style="left:378px;top:294px"><span class="nx">SELL</span></div>
<div class="t s" style="left:438px;top:295px"><span class="sx">0.05</span></div>
<div class="t a neg" style="left:498px;top:294px"><span class="nx">-24.45</span></div>
<div class="b go p" style="left:578px;top:291px"><span>(4/10)</span></div>
<div class="b bl p" style="left:658px;top:291px"><span>Disciplined</span></div>
<div class="b pu p" style="left:738px;top:291px"><span>VSA</span></div>
<div class="b em p" style="left:818px;top:291px"><span>Focused</span></div>
<div class="note" style="top:291px"><span>fomo trade and lost learn not to repet</span></div>
<div class="row" style="top:314px"></div>
<div class="st w" style="top:316px"></div>
<div class="t s" style="left:83px;top:320px"><span class="sx">2025.12.01</span></div>
<div class="t s" style="left:183px;top:320px"><span class="sx cap">XAUUSD</span></div>
<div class="t a sell" style="left:378px;top:319px"><span class="nx">SELL</span></div>
<div class="t s" style="left:438px;top:320px"><span class="sx">0.05</span></div>
<div class="t a pos" style="left:498px;top:319px"><span class="nx">23.10</span></div>
<div class="b go p" style="left:578px;top:316px"><span>(3/10)</span></div>
<div class="b bl p" style="left:658px;top:316px"><span>Disciplined</span></div>
<div class="b pu p" style="left:738px;top:316px"><span>ICT</span></div>
<div class="b em p" style="left:818px;top:316px"><span>Focused</span></div>
<div class="note" style="top:316px"><span>tarde based on rules and following key zone</span></div>
<div class="row" style="top:339px"></div>
<div class="st w" style="top:341px"></div>
<div class="t s" style="left:83px;top:345px"><span class="sx">2025.12.01</span></div>
<div class="t s" style="left:183px;top:345px"><span class="sx cap">XAUUSD</span></div>
<div class="t a sell" style="left:378px;top:344px"><span class="nx">SELL</span></div>
<div class="t s" style="left:438px;top:345px"><span class="sx">0.05</span></div>
<div class="t a pos" style="left:498px;top:344px"><span class="nx">96.05</span></div>
<div class="b go p" style="left:578px;top:341px"><span>(3/10)</span></div>
<div class="b bl p" style="left:658px;top:341px"><span>Disciplined</span></div>
<div class="b pu" style="left:738px;top:341px"><span>SMC</span></div>
<div class="b em p" style="left:818px;top:341px"><span>Focused</span></div>
<div class="note" style="top:341px"><span>tarde based on rules and following key zone</span></div>
<div class="row" style="top:364px"></div>
<div class="st w" style="top:366px"></div>
<div class="t s" style="left:83px;top:370px"><span class="sx">2025.12.01</span></div>
<div class="t s" style="left:183px;top:370px"><span class="sx cap">XAUUSD</span></div>
<div class="t a sell" style="left:378px;top:369px"><span class="nx">SELL</span></div>
<div class="t s" style="left:438px;top:370px"><span class="sx">0.05</span></div>
<div class="t a pos" style="left:498px;top:369px"><span class="nx">21.25</span></div>
<div class="b go p" style="left:578px;top:366px"><span>(4/10)</span></div>
<div class="b gr" style="left:658px;top:366px"><span>Good Setup</span></div>
<div class="b pu p" style="left:738px;top:366px"><span>VSA</span></div>
<div class="b em" style="left:818px;top:366px"><span>Confident</span></div>
<div class="note" style="top:366px"><span>tarde based on rules and following key zone</span></div>
<div class="row" style="top:389px"></div>
<div class="st w" style="top:391px"></div>
<div class="t s" style="left:83px;top:395px"><span class="sx">2025.12.01</span></div>
<div class="t s" style="left:183px;top:395px"><span class="sx cap">XAUUSD</span></div>
<div class="t a sell" style="left:378px;top:394px"><span class="nx">SELL</span></div>
<div class="t s" style="left:438px;top:395px"><span class="sx">0.01</span></div>
<div class="t a pos" style="left:498px;top:394px"><span class="nx">0.79</span></div>
<div class="b go p" style="left:578px;top:391px"><span>(2/10)</span></div>
<div class="b bl p" style="left:658px;top:391px"><span>Disciplined</span></div>
<div class="b pu" style="left:738px;top:391px"><span>SMC</span></div>
<div class="b em" style="left:818px;top:391px"><span>Focused</span></div>
<div class="note" style="top:391px"><span>tarde based on rules and following key zone</span></div>
<div class="row" style="top:414px"></div>
<div class="st l" style="top:416px"></div>
<div class="t s" style="left:83px;top:420px"><span class="sx">2025.12.01</span></div>
<div class="t s" style="left:183px;top:420px"><span class="sx mix">Volatility 75 (1s) Index</span></div>
<div class="t a sell" style="left:378px;top:419px"><span class="nx">SELL</span></div>
<div class="t s" style="left:438px;top:420px"><span class="sx">0.10</span></div>
<div class="t a neg" style="left:498px;top:419px"><span class="nx">-70.40</span></div>
<div class="b go p" style="left:578px;top:416px"><span>(3/10)</span></div>
<div class="b or p" style="left:658px;top:416px"><span>FOMO</span></div>
<div class="b pu" style="left:738px;top:416px"><span>Scalping</span></div>
<div class="b em p" style="left:818px;top:416px"><span>Anxious</span></div>
<div class="note" style="top:416px"><span>fomo witout analysis trade</span></div>
<div class="row" style="top:439px"></div>
<div class="st l" style="top:441px"></div>
<div class="t s" style="left:83px;top:445px"><span class="sx">2025.12.01</span></div>
<div class="t s" style="left:183px;top:445px"><span class="sx mix">Volatility 75 (1s) Index</span></div>
<div class="t a sell" style="left:378px;top:444px"><span class="nx">SELL</span></div>
<div class="t s" style="left:438px;top:445px"><span class="sx">0.10</span></div>
<div class="t a neg" style="left:498px;top:444px"><span class="nx">-70.35</span></div>
<div class="b go p" style="left:578px;top:441px"><span>(4/10)</span></div>
<div class="b or p" style="left:658px;top:441px"><span>FOMO</span></div>
<div class="b pu p" style="left:738px;top:441px"><span>Price Action</span></div>
<div class="b em" style="left:818px;top:441px"><span>Anxious</span></div>
<div class="note" style="top:441px"><span>fomo without analysis trade</span></div>
<div class="row" style="top:464px"></div>
<div class="st w" style="top:466px"></div>
<div class="t s" style="left:83px;top:470px"><span class="sx">2025.12.01</span></div>
<div class="t s" style="left:183px;top:470px"><span class="sx cap">XAUUSD</span></div>
<div class="t a sell" style="left:378px;top:469px"><span class="nx">SELL</span></div>
<div class="t s" style="left:438px;top:470px"><span class="sx">0.20</span></div>
<div class="t a pos" style="left:498px;top:469px"><span class="nx">147.20</span></div>
<div class="b go p" style="left:578px;top:466px"><span>(1/10)</span></div>
<div class="b bl p" style="left:658px;top:466px"><span>Disciplined</span></div>
<div class="b pu p" style="left:738px;top:466px"><span>ICT</span></div>
<div class="b em" style="left:818px;top:466px"><span>Confident</span></div>
<div class="note" style="top:466px"><span>tarde based on rules and following key zone</span></div>
<div class="row" style="top:489px"></div>
<div class="st w" style="top:491px"></div>
<div class="t s" style="left:83px;top:495px"><span class="sx">2025.12.01</span></div>
<div class="t s" style="left:183px;top:495px"><span class="sx cap">XAUUSD</span></div>
<div class="t a sell" style="left:378px;top:494px"><span class="nx">SELL</span></div>
<div class="t s" style="left:438px;top:495px"><span class="sx">0.01</span></div>
<div class="t a pos" style="left:498px;top:494px"><span class="nx">21.17</span></div>
<div class="b go p" style="left:578px;top:491px"><span>(2/10)</span></div>
<div class="b bl p" style="left:658px;top:491px"><span>Disciplined</span></div>
<div class="b pu p" style="left:738px;top:491px"><span>Price Action</span></div>
<div class="b em p" style="left:818px;top:491px"><span>Focused</span></div>
<div class="note" style="top:491px"><span>tarde based on rules and following key zone</span></div>
<div class="row" style="top:514px"></div>
<div class="st w" style="top:516px"></div>
<div class="t s" style="left:83px;top:520px"><span class="sx">2025.11.30</span></div>
<div class="t s" style="left:183px;top:520px"><span class="sx cap">XAUUSD</span></div>
<div class="t a sell" style="left:378px;top:519px"><span class="nx">SELL</span></div>
<div class="t s" style="left:438px;top:520px"><span class="sx">0.01</span></div>
<div class="t a pos" style="left:498px;top:519px"><span class="nx">14.70</span></div>
<div class="b go p" style="left:578px;top:516px"><span>(3/10)</span></div>
<div class="b bl p" style="left:658px;top:516px"><span>Disciplined</span></div>
<div class="b pu p" style="left:738px;top:516px"><span>VSA</span></div>
<div class="b em p" style="left:818px;top:516px"><span>Focused</span></div>
<div class="note" style="top:516px"><span>tarde based on rules and following key zone</span></div>
<div class="row" style="top:539px"></div>
<div class="st w" style="top:541px"></div>
<div class="t s" style="left:83px;top:545px"><span class="sx">2025.11.30</span></div>
<div class="t s" style="left:183px;top:545px"><span class="sx mx2">Crash 600 Index</span></div>
<div class="t a sell" style="left:378px;top:544px"><span class="nx">SELL</span></div>
<div class="t s" style="left:438px;top:545px"><span class="sx">0.20</span></div>
<div class="t a pos" style="left:498px;top:544px"><span class="nx">17.19</span></div>
<div class="b go p" style="left:578px;top:541px"><span>(3/10)</span></div>
<div class="b bl p" style="left:658px;top:541px"><span>Disciplined</span></div>
<div class="b pu p" style="left:738px;top:541px"><span>ICT</span></div>
<div class="b em p" style="left:818px;top:541px"><span>Focused</span></div>
<div class="note" style="top:541px"><span>tarde based on rules and following key zone</span></div>
<div class="row" style="top:564px"></div>
<div class="st w" style="top:566px"></div>
<div class="t s" style="left:83px;top:570px"><span class="sx">2025.11.29</span></div>
<div class="t s" style="left:183px;top:570px"><span class="sx mx2">Crash 500 Index</span></div>
<div class="t a buy" style="left:378px;top:569px"><span class="nx">BUY</span></div>
<div class="t s" style="left:438px;top:570px"><span class="sx">0.20</span></div>
<div class="t a pos" style="left:498px;top:569px"><span class="nx">5.21</span></div>
<div class="b go p" style="left:578px;top:566px"><span>(3/10)</span></div>
<div class="b bl p" style="left:658px;top:566px"><span>Disciplined</span></div>
<div class="b pu p" style="left:738px;top:566px"><span>VSA</span></div>
<div class="b em p" style="left:818px;top:566px"><span>Focused</span></div>
<div class="note" style="top:566px"><span>tarde based on rules and following key zone</span></div>
<div class="row" style="top:589px"></div>
<div class="st w" style="top:591px"></div>
<div class="t s" style="left:83px;top:595px"><span class="sx">2025.11.29</span></div>
<div class="t s" style="left:183px;top:595px"><span class="sx mx2">Boom 300 Index</span></div>
<div class="t a sell" style="left:378px;top:594px"><span class="nx">SELL</span></div>
<div class="t s" style="left:438px;top:595px"><span class="sx">1.00</span></div>
<div class="t a pos" style="left:498px;top:594px"><span class="nx">102.97</span></div>
<div class="b go p" style="left:578px;top:591px"><span>(3/10)</span></div>
<div class="b gr" style="left:658px;top:591px"><span>Good Setup</span></div>
<div class="b pu" style="left:738px;top:591px"><span>Mkt Profile</span></div>
<div class="b em" style="left:818px;top:591px"><span>Confident</span></div>
<div class="note" style="top:591px"><span>tarde based on rules and following key zone</span></div>
<div class="row" style="top:614px"></div>
<div class="st w" style="top:616px"></div>
<div class="t s" style="left:83px;top:620px"><span class="sx">2025.11.28</span></div>
<div class="t s" style="left:183px;top:620px"><span class="sx cap">XAUUSD</span></div>
<div class="t a buy" style="left:378px;top:619px"><span class="nx">BUY</span></div>
<div class="t s" style="left:438px;top:620px"><span class="sx">1.00</span></div>
<div class="t a pos" style="left:498px;top:619px"><span class="nx">61.00</span></div>
<div class="b go" style="left:578px;top:616px"><span>(1/10)</span></div>
<div class="b bl p" style="left:658px;top:616px"><span>Disciplined</span></div>
<div class="b pu p" style="left:738px;top:616px"><span>ICT</span></div>
<div class="b em p" style="left:818px;top:616px"><span>Focused</span></div>
<div class="note" style="top:616px"><span>tarde based on rules and following key zone</span></div>
<div class="row" style="top:639px"></div>
<div class="st w" style="top:641px"></div>
<div class="t s" style="left:83px;top:645px"><span class="sx">2025.11.28</span></div>
<div class="t s" style="left:183px;top:645px"><span class="sx cap">XAUUSD</span></div>
<div class="t a sell" style="left:378px;top:644px"><span class="nx">SELL</span></div>
<div class="t s" style="left:438px;top:645px"><span class="sx">1.00</span></div>
<div class="t a pos" style="left:498px;top:644px"><span class="nx">114.00</span></div>
<div class="b go p" style="left:578px;top:641px"><span>(1/10)</span></div>
<div class="b gr" style="left:658px;top:641px"><span>Good Setup</span></div>
<div class="b pu p" style="left:738px;top:641px"><span>VSA</span></div>
<div class="b em p" style="left:818px;top:641px"><span>Focused</span></div>
<div class="note" style="top:641px"><span>tarde based on rules and following key zone</span></div>
<div class="row" style="top:664px"></div>
<div class="st w" style="top:666px"></div>
<div class="t s" style="left:83px;top:670px"><span class="sx">2025.11.28</span></div>
<div class="t s" style="left:183px;top:670px"><span class="sx cap">XAUUSD</span></div>
<div class="t a sell" style="left:378px;top:669px"><span class="nx">SELL</span></div>
<div class="t s" style="left:438px;top:670px"><span class="sx">0.01</span></div>
<div class="t a pos" style="left:498px;top:669px"><span class="nx">11.92</span></div>
<div class="b go p" style="left:578px;top:666px"><span>(1/10)</span></div>
<div class="b bl p" style="left:658px;top:666px"><span>Disciplined</span></div>
<div class="b pu p" style="left:738px;top:666px"><span>VSA</span></div>
<div class="b em p" style="left:818px;top:666px"><span>Focused</span></div>
<div class="note" style="top:666px"><span>tarde based on rules and following key zone</span></div>
<div class="row" style="top:689px"></div>
<div class="st w" style="top:691px"></div>
<div class="t s" style="left:83px;top:695px"><span class="sx">2025.11.28</span></div>
<div class="t s" style="left:183px;top:695px"><span class="sx cap">XAUUSD</span></div>
<div class="t a sell" style="left:378px;top:694px"><span class="nx">SELL</span></div>
<div class="t s" style="left:438px;top:695px"><span class="sx">0.01</span></div>
<div class="t a pos" style="left:498px;top:694px"><span class="nx">11.72</span></div>
<div class="b go p" style="left:578px;top:691px"><span>(3/10)</span></div>
<div class="b bl p" style="left:658px;top:691px"><span>Disciplined</span></div>
<div class="b pu" style="left:738px;top:691px"><span>SMC</span></div>
<div class="b em p" style="left:818px;top:691px"><span>Focused</span></div>
<div class="note" style="top:691px"><span>tarde based on rules and following key zone</span></div>
<div class="row" style="top:714px"></div>
<div class="st w" style="top:716px"></div>
<div class="t s" style="left:83px;top:720px"><span class="sx">2025.11.28</span></div>
<div class="t s" style="left:183px;top:720px"><span class="sx cap">XAUUSD</span></div>
<div class="t a sell" style="left:378px;top:719px"><span class="nx">SELL</span></div>
<div class="t s" style="left:438px;top:720px"><span class="sx">0.01</span></div>
<div class="t a pos" style="left:498px;top:719px"><span class="nx">11.87</span></div>
<div class="b go p" style="left:578px;top:716px"><span>(1/10)</span></div>
<div class="b bl p" style="left:658px;top:716px"><span>Disciplined</span></div>
<div class="b pu" style="left:738px;top:716px"><span>SMC</span></div>
<div class="b em p" style="left:818px;top:716px"><span>Focused</span></div>
<div class="note" style="top:716px"><span>tarde based on rules and following key zone</span></div>
<div class="row" style="top:739px"></div>
<div class="st l" style="top:741px"></div>
<div class="t s" style="left:83px;top:745px"><span class="sx">2025.11.28</span></div>
<div class="t s" style="left:183px;top:745px"><span class="sx cap">XAUUSD</span></div>
<div class="t a buy" style="left:378px;top:744px"><span class="nx">BUY</span></div>
<div class="t s" style="left:438px;top:745px"><span class="sx">0.01</span></div>
<div class="t a neg" style="left:498px;top:744px"><span class="nx">-16.06</span></div>
<div class="b go p" style="left:578px;top:741px"><span>(1/10)</span></div>
<div class="b or p" style="left:658px;top:741px"><span>FOMO</span></div>
<div class="b pu" style="left:738px;top:741px"><span>Scalping</span></div>
<div class="b em p" style="left:818px;top:741px"><span>Anxious</span></div>
<div class="note" style="top:741px"><span>lost following friend trade</span></div>
<div class="row" style="top:764px"></div>
<div class="st l" style="top:766px"></div>
<div class="t s" style="left:83px;top:770px"><span class="sx">2025.11.28</span></div>
<div class="t s" style="left:183px;top:770px"><span class="sx cap">XAUUSD</span></div>
<div class="t a buy" style="left:378px;top:769px"><span class="nx">BUY</span></div>
<div class="t s" style="left:438px;top:770px"><span class="sx">0.01</span></div>
<div class="t a neg" style="left:498px;top:769px"><span class="nx">-15.52</span></div>
<div class="b go p" style="left:578px;top:766px"><span>(1/10)</span></div>
<div class="b or p" style="left:658px;top:766px"><span>FOMO</span></div>
<div class="b pu" style="left:738px;top:766px"><span>Scalping</span></div>
<div class="b em p" style="left:818px;top:766px"><span>Anxious</span></div>
<div class="note" style="top:766px"><span>lost following friend trade</span></div>
<div class="row" style="top:789px"></div>
<div class="st l" style="top:791px"></div>
<div class="t s" style="left:83px;top:795px"><span class="sx">2025.11.28</span></div>
<div class="t s" style="left:183px;top:795px"><span class="sx cap">XAUUSD</span></div>
<div class="t a buy" style="left:378px;top:794px"><span class="nx">BUY</span></div>
<div class="t s" style="left:438px;top:795px"><span class="sx">0.01</span></div>
<div class="t a neg" style="left:498px;top:794px"><span class="nx">-15.13</span></div>
<div class="b go p" style="left:578px;top:791px"><span>(1/10)</span></div>
<div class="b or" style="left:658px;top:791px"><span>FOMO</span></div>
<div class="b pu" style="left:738px;top:791px"><span>Scalping</span></div>
<div class="b em" style="left:818px;top:791px"><span>Greedy</span></div>
<div class="note" style="top:791px"><span>friend signal and lost</span></div>
<div class="row" style="top:814px"></div>
<div class="st w" style="top:816px"></div>
<div class="t s" style="left:83px;top:820px"><span class="sx">2025.11.28</span></div>
<div class="t s" style="left:183px;top:820px"><span class="sx mix">Volatility 75 (1s) Index</span></div>
<div class="t a sell" style="left:378px;top:819px"><span class="nx">SELL</span></div>
<div class="t s" style="left:438px;top:820px"><span class="sx">0.10</span></div>
<div class="t a pos" style="left:498px;top:819px"><span class="nx">0.12</span></div>
<div class="b go p" style="left:578px;top:816px"><span>(1/10)</span></div>
<div class="b or" style="left:658px;top:816px"><span>FOMO</span></div>
<div class="b pu" style="left:738px;top:816px"><span>Scalping</span></div>
<div class="b em p" style="left:818px;top:816px"><span>Anxious</span></div>
<div class="note" style="top:816px"><span>fear of loss took exit</span></div>
<div class="row" style="top:839px"></div>
<div class="st w" style="top:841px"></div>
<div class="t s" style="left:83px;top:845px"><span class="sx">2025.11.28</span></div>
<div class="t s" style="left:183px;top:845px"><span class="sx mix">Volatility 75 (1s) Index</span></div>
<div class="t a sell" style="left:378px;top:844px"><span class="nx">SELL</span></div>
<div class="t s" style="left:438px;top:845px"><span class="sx">0.10</span></div>
<div class="t a pos" style="left:498px;top:844px"><span class="nx">0.03</span></div>
<div class="b go p" style="left:578px;top:841px"><span>(1/10)</span></div>
<div class="b or p" style="left:658px;top:841px"><span>FOMO</span></div>
<div class="b pu" style="left:738px;top:841px"><span>Scalping</span></div>
<div class="b em p" style="left:818px;top:841px"><span>Fearful</span></div>
<div class="note" style="top:841px"><span>fear of loss took exit</span></div>
<div class="row" style="top:864px"></div>
<div class="st w" style="top:866px"></div>
<div class="t s" style="left:83px;top:870px"><span class="sx">2025.11.28</span></div>
<div class="t s" style="left:183px;top:870px"><span class="sx mix">Volatility 75 (1s) Index</span></div>
<div class="t a sell" style="left:378px;top:869px"><span class="nx">SELL</span></div>
<div class="t s" style="left:438px;top:870px"><span class="sx">0.10</span></div>
<div class="t a pos" style="left:498px;top:869px"><span class="nx">0.78</span></div>
<div class="b go p" style="left:578px;top:866px"><span>(1/10)</span></div>
<div class="b or p" style="left:658px;top:866px"><span>FOMO</span></div>
<div class="b pu" style="left:738px;top:866px"><span>Scalping</span></div>
<div class="b em" style="left:818px;top:866px"><span>Fearful</span></div>
<div class="note" style="top:866px"><span>fear and hury in</span></div>
</div>
</div>

<div id="side">
<div class="h1" style="top:16px">Overall Performance</div>
<div class="h2" style="top:44px">Today</div>
<div class="bar" style="top:62px"></div>
<div class="pc" style="top:60px;color:#0fa06d">0.0%</div>
<div class="h2" style="top:79px">This Week</div>
<div class="bar" style="top:97px"><i style="width:14px;background:#00a06d"></i></div>
<div class="pc" style="top:95px;color:#0fa06d">+3.0%</div>
<div class="h2" style="top:114px">This Month</div>
<div class="bar" style="top:132px"><i style="width:14px;background:#00a06d"></i></div>
<div class="pc" style="top:130px;color:#0fa06d">+3.0%</div>
<div class="h2" style="top:149px">All History</div>
<div class="bar" style="top:167px"><i style="width:158px;background:#d63c49"></i></div>
<div class="pc" style="top:165px;color:#d63c49">-94.3%</div>

<div class="h1" style="top:196px;letter-spacing:-.03px">Risk &amp; Efficiency</div>
<div class="h2" style="top:224px">Win Rate</div>
<div class="bar" style="top:240px"><i style="width:50px;background:#d63c49"></i></div>
<div class="pc" style="top:237px;left:189px;color:#fff">32.9%</div>
<div class="h2" style="top:259px">Max Drawdown</div>
<div class="bar" style="top:275px"><i style="width:158px;background:#d63c49"></i></div>
<div class="pc" style="top:272px;left:189px;color:#fff">99.9%</div>
<div class="h2" style="top:293px;color:#a6aab6">Recovery Factor: 0.00</div>

<div class="h1" style="top:331px;letter-spacing:0">Deep Analytics</div>
<div class="yb" style="top:359px">Best Time: Wed / Asian</div>
<div class="yb" style="top:387px">Lots: Avg 6.90 | Var 49.51</div>
<div class="yb" style="top:415px">Max Lot Jump: 1019.00</div>
<div class="yb" style="top:443px">Revenge/Impulse: 167</div>
<div class="yb" style="top:471px">Streak: W 48 / L 60</div>
<div class="yb" style="top:499px">Best Sym: Volatility 50 (1s) Index</div>
<div class="yb" style="top:527px">Worst Sym: Volatility 25 (1s) Index</div>

<div class="mo" style="top:562px;color:#b8860b">SHUT YOUR MOUTH &amp; EXECUTE</div>
<div class="mo" style="top:580px;color:#a0432f;letter-spacing:-.15px">RESPECT RISK OR DIE BROKE</div>
<div class="mo" style="top:598px;color:#2f8f22;letter-spacing:-.05px">NO PLAN? NO TRADE.</div>
<div class="mo" style="top:616px;color:#008b69">EMOTIONS = POVERTY</div>
<div class="mo" style="top:634px;color:#858585;letter-spacing:-.18px">DISCIPLINE IS FREEDOM</div>

<div class="sb" style="left:-1px;top:885px;background:#283046;border-color:#232b40 #7c8084 #7c8084 #232b40"><span>Load</span></div>
<div class="sb" style="left:64px;top:885px;background:#283046;border-color:#232b40 #7c8084 #7c8084 #232b40"><span>Refresh</span></div>
<div class="sb" style="left:129px;top:885px;background:#0a84e8;border-color:#30b0ff #0070d0 #0070d0 #30b0ff"><span style="top:5px">Calendar</span></div>
<div class="sb" style="left:194px;top:885px;background:#b01c80;border-color:#b01c80 #e060b8 #e060b8 #b01c80"><span>Photo</span></div>
</div>

<svg style="left:896px;top:615px" width="13" height="20" viewBox="0 0 13 20"><path d="M.5.700v15.800l3.700-3.500 2.900 6.300 2.200-1-2.900-6.100h5.100z" fill="#fff" stroke="#000" stroke-width="1" stroke-linejoin="miter"/></svg>
<div id="status">
<div style="left:2px;top:5px"><span class="k" style="transform:scaleX(.935)">For Help, press F1</span></div>
<div class="sp" style="left:1227px"></div>
<div style="left:1233px;top:5px">Default</div>
<div class="sp" style="left:1355px"></div>
<div class="sp" style="left:1453px"></div>
<div class="sp" style="left:1524px"></div>
<div class="sp" style="left:1595px"></div>
<div class="sp" style="left:1663px"></div>
<div class="sp" style="left:1733px"></div>
<div class="sp" style="left:1799px"></div>
<svg style="left:1805px;top:7px" width="14" height="11" viewBox="0 0 14 11"><path d="M1.500 10.500v-3M4.500 10.500v-5M7.500 10.500v-7.500M10.500 10.500v-10" stroke="#1cb01c" stroke-width="1.800"/><path d="M13.200 10.500v-10.500" stroke="#d0d0d0" stroke-width="1"/></svg>
<div style="left:1826px;top:5px"><span class="k" style="transform:scaleX(.925)">178.82 ms</span></div>
</div>
</body>
</html>
